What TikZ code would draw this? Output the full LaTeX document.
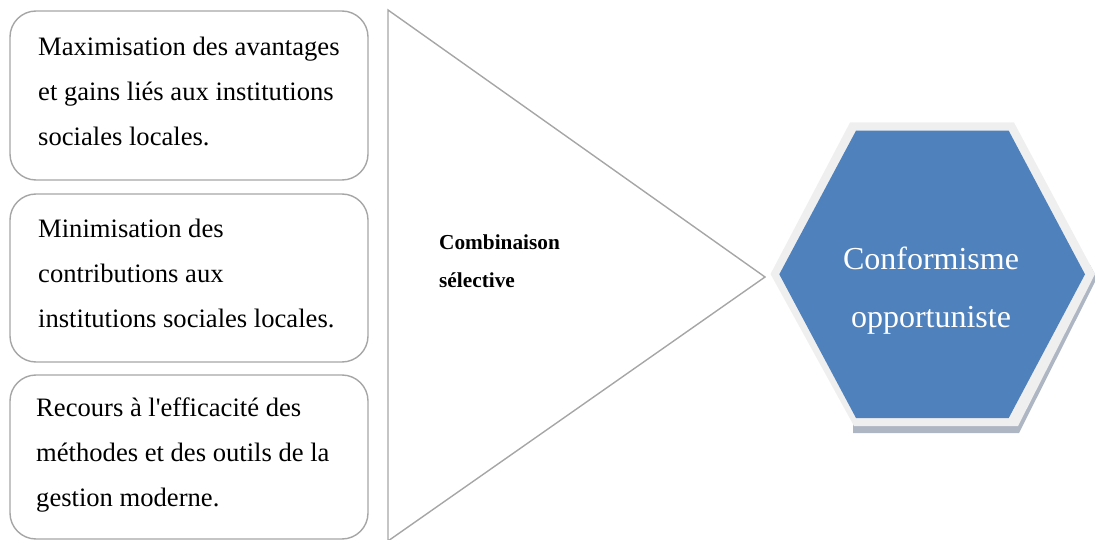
\documentclass[tikz,border=0pt]{standalone}
\usepackage{fontspec}
\setmainfont{Liberation Serif}
\definecolor{hexblue}{HTML}{4F81BD}
\definecolor{hexrim}{HTML}{EFEFEF}
\definecolor{linegray}{HTML}{A6A6A6}
\definecolor{bevel}{HTML}{AEB6C4}
\begin{document}
\begin{tikzpicture}[x=1pt,y=-1pt,
  boxstyle/.style={draw=linegray,line width=1.4pt,rounded corners=26pt,fill=white},
  boxtext/.style={anchor=west,align=left,inner sep=0pt,font=\fontsize{26.6}{45}\selectfont},
  midtext/.style={anchor=west,align=left,inner sep=0pt,font=\bfseries\fontsize{21.3}{38}\selectfont},
  hextext/.style={align=center,inner sep=0pt,text=white,font=\fontsize{32}{58}\selectfont}]
\useasboundingbox (0,0) rectangle (1095,540);
% left boxes
\draw[boxstyle] (10,11) rectangle (368,180);
\draw[boxstyle] (10,194) rectangle (368,362);
\draw[boxstyle] (10,375) rectangle (368,539);
\node[boxtext] (t1) at (38,91) {Maximisation des avantages\\et gains liés aux institutions\\sociales locales.};
\node[boxtext] (t2) at (38,273) {Minimisation des\\contributions aux\\institutions sociales locales.};
\node[boxtext] (t3) at (36,455) {Recours à l\textquotesingle efficacité des\\méthodes et des outils de la\\gestion moderne.};
% triangle
\draw[linegray,line width=1.4pt] (388,541) -- (388,10) -- (765,277) -- (388,541);
\node[midtext] (comb) at (439,261) {Combinaison\\sélective};
% hexagon bevel (shadow strip, bottom and lower right only)
\fill[bevel] (1090,265) -- (1097,278) -- (1019,433) -- (853,433) -- (853,420) -- (1010,420) -- cycle;
% hexagon rim
\fill[hexrim] (850,122.5) -- (1014,122.5) -- (1095,274) -- (1018,426) -- (854,426) -- (770.5,274) -- cycle;
% hexagon body
\fill[hexblue] (856,130.7) -- (1008.7,130.7) -- (1085,274.3) -- (1008.7,418) -- (856,418) -- (779.3,274.3) -- cycle;
\node[hextext] (conf) at (931,291) {Conformisme\\opportuniste};
\end{tikzpicture}
\end{document}
